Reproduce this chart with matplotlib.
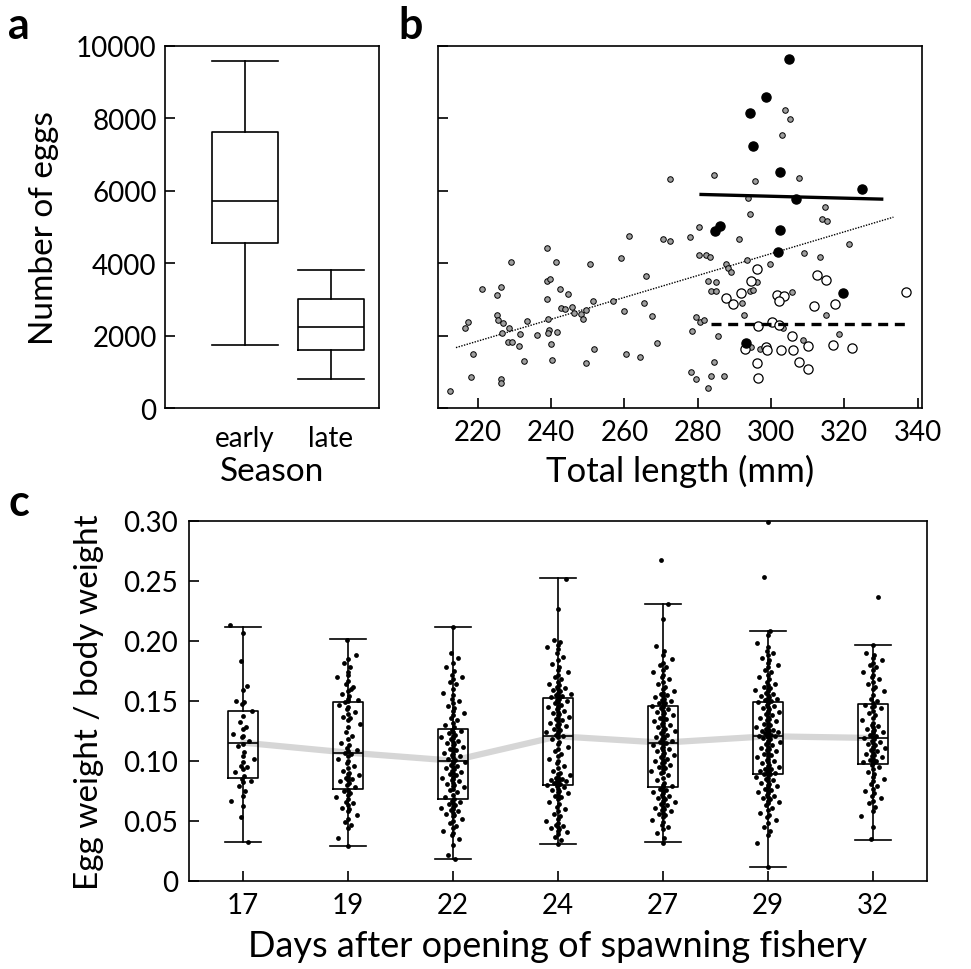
import numpy as np
import matplotlib
matplotlib.use("Agg")
import matplotlib.pyplot as plt

plt.rcParams['font.family'] = ['Lato', 'DejaVu Sans']

# ---- panel a: number of eggs by season (box stats) ----
seasons = ['early', 'late']
a_whislo = [1750, 800]
a_q1 = [4560, 1590]
a_med = [5720, 2240]
a_q3 = [7620, 3020]
a_whishi = [9580, 3820]

# ---- panel b: eggs vs total length ----
grey_len = [212.5, 216.4, 217.3, 218.6, 218.1, 221.0, 225.2, 226.3, 225.1, 225.5, 226.9, 226.5,
            228.5, 226.2, 226.2, 228.9, 228.3, 229.3, 231.4, 231.1, 232.5, 233.5, 236.2, 238.8,
            239.6, 238.9, 239.2, 239.4, 239.2, 240.0, 240.1, 238.9, 241.4, 241.5, 242.3, 242.7,
            243.7, 244.5, 245.7, 246.3, 248.0, 248.7, 249.5, 249.5, 250.6, 251.3, 251.7, 256.8,
            259.0, 259.9, 260.5, 261.1, 264.1, 265.3, 265.9, 267.6, 268.8, 270.5, 272.3, 272.4,
            277.9, 278.1, 278.5, 279.6, 279.6, 280.3, 280.3, 280.6, 281.6, 282.2, 283.4, 282.8,
            283.7, 283.7, 282.9, 284.4, 284.9, 285.1, 284.5, 285.4, 287.2, 287.7, 288.2, 289.1,
            291.3, 292.0, 292.6, 293.5, 293.6, 294.3, 294.3, 295.2, 295.5, 296.1, 299.6, 303.2,
            303.0, 303.8, 305.1, 305.7, 307.5, 308.7, 308.9, 313.3, 313.8, 314.6, 315.4, 315.0,
            318.5, 321.2, 294.5, 297.0, 299.1]
grey_eggs = [470, 2221, 2378, 1484, 857, 3281, 3134, 3337, 2562, 2433, 2360, 2065,
             2221, 811, 691, 4028, 1816, 1816, 2037, 1724, 1290, 2406, 2028, 3502,
             3576, 3005, 2470, 2166, 2074, 1770, 1327, 4433, 4037, 2111, 3290, 2765,
             2737, 3143, 2793, 2627, 2608, 2470, 2719, 1235, 3991, 2968, 1622, 2968,
             4148, 2682, 1502, 4747, 1401, 2894, 3659, 2553, 1788, 4664, 4609, 6323,
             4728, 986, 2120, 2516, 811, 4231, 5005, 2387, 2424, 4221, 4166, 3502,
             3226, 876, 562, 6433, 3226, 3475, 1272, 1991, 876, 3991, 3871, 3751,
             4673, 2913, 2562, 4102, 5807, 5364, 3244, 3263, 6258, 3475, 3973, 2212,
             7539, 8222, 7991, 3208, 6360, 1889, 4286, 4166, 5226, 5539, 5161, 2562,
             2037, 4535, 1696, 1641, 1595]
early_len = [304.8, 298.5, 294.3, 295.1, 302.5, 324.9, 306.9, 286.1, 284.6, 302.5, 301.8, 319.7, 293.1]
early_eggs = [9641, 8581, 8139, 7235, 6516, 6037, 5770, 5014, 4876, 4922, 4304, 3189, 1797]
late_len = [296.1, 294.5, 291.8, 287.7, 289.7, 301.5, 303.5, 302.3, 312.6, 315.0, 311.7, 317.5,
            336.9, 296.4, 300.2, 302.2, 305.8, 293.0, 298.5, 298.8, 302.6, 305.9, 310.2, 316.9,
            322.0, 296.3, 307.6, 310.2, 296.5]
late_eggs = [3853, 3512, 3180, 3051, 2866, 3134, 3088, 2959, 3687, 3548, 2811, 2866,
             3198, 2258, 2378, 2286, 2000, 1631, 1696, 1595, 1595, 1595, 1714, 1742,
             1659, 1235, 1281, 1088, 830]
# fitted lines (endpoints)
fit_all_x = [214.0, 333.4]
fit_all_y = [1668, 5272]
fit_early_x = [280.9, 330.2]
fit_early_y = [5899, 5770]
fit_late_x = [283.5, 337.6]
fit_late_y = [2332, 2332]

# ---- panel c: egg weight / body weight by day ----
days = ['17', '19', '22', '24', '27', '29', '32']
c_whislo = [0.0328, 0.0294, 0.018, 0.0311, 0.0322, 0.0119, 0.0344]
c_q1 = [0.0856, 0.0767, 0.0686, 0.080, 0.0783, 0.0894, 0.0978]
c_med = [0.1153, 0.107, 0.1003, 0.1206, 0.1153, 0.1206, 0.1192]
c_q3 = [0.1417, 0.149, 0.1264, 0.1528, 0.1456, 0.149, 0.1472]
c_whishi = [0.212, 0.2014, 0.2117, 0.2522, 0.2311, 0.208, 0.197]

d17 = [.2133, .2064, .1831, .1622, .1589, .1503, .1489, .1475, .1419, .1378, .1322, .1281, .1267,
       .1225, .1211, .1197, .1169, .1142, .1128, .1072, .1044, .1017, .0989, .0961, .0947, .0933,
       .0906, .0878, .0850, .0836, .0822, .0794, .0753, .0711, .0669, .0628, .0531, .0322]
d19 = [.201, .188, .185, .182, .178, .174, .170, .167, .164, .162, .158, .156, .154, .152, .151, .150,
       .149, .160, .172,
       .147, .145, .143, .141, .139, .137, .136, .134, .131, .128, .124, .121, .118, .115, .113, .111,
       .109, .108, .107,
       .106, .104, .102, .100, .098, .096, .094, .092, .090, .089, .088, .087, .086, .085, .084, .083,
       .082, .080, .078,
       .076, .075, .073, .072, .070, .068, .066, .065, .063, .061, .060, .058, .055, .052, .049, .047,
       .044, .036, .029]
d22 = [.212, .190, .186, .182, .178, .175, .172, .170, .168, .166, .164, .160, .157, .155, .152, .150,
       .148, .146, .144, .142, .140, .138, .136, .134, .132, .130, .128,
       .126, .125, .124, .123, .122, .121, .120, .119, .118, .117, .116, .115, .114, .113, .112, .111,
       .110, .109, .108, .107, .106, .105, .104, .103, .102, .101, .100,
       .099, .098, .097, .096, .095, .094, .093, .092, .091, .090, .089, .088, .087, .086, .085, .084,
       .083, .082, .081, .080, .079, .078, .077, .076, .074, .072, .070,
       .068, .067, .066, .065, .064, .063, .062, .061, .060, .059, .058, .057, .056, .055, .054, .052,
       .050, .048, .046, .044, .042, .040, .038, .035, .030, .022, .018]
d24 = [.252, .227, .201, .199, .197, .195, .193, .190, .187, .184, .181, .178, .176, .174, .172, .170,
       .168, .166, .164, .163, .162, .161, .160, .159, .158, .157, .156, .155, .155, .154, .154, .153,
       .152, .151, .150, .149, .148, .147, .146, .145, .144, .143, .142, .141, .140, .139, .138, .137,
       .136, .135, .134, .133, .132, .131, .130, .129, .128, .127, .126, .125, .124, .123, .122, .121,
       .120, .118, .116, .114, .112, .110, .108, .106, .104, .102, .100, .098, .096, .094, .092, .090,
       .089, .088, .087, .086, .085, .085, .084, .084, .083, .083, .082, .082, .081, .081, .080, .080,
       .079, .078, .077, .076, .075, .074, .073, .072, .071, .070, .068, .066, .064, .062, .060, .058,
       .056, .054, .052, .050, .048, .047, .046, .045, .044, .043, .042, .041, .039, .037, .034, .031]
d27 = [.2675, .231, .218, .196, .192, .188, .185, .182, .180, .178, .176, .174, .172, .170, .168, .166,
       .164, .162, .160, .158, .157, .156, .155, .154, .153, .152, .151, .150, .149, .148, .148, .147,
       .146,
       .145, .144, .143, .142, .141, .140, .139, .138, .137, .136, .135, .134, .133, .132, .131, .130,
       .129, .128, .127, .126, .125, .124, .123, .122, .121, .120, .119, .118, .117, .116, .116, .115,
       .114, .113, .112, .111, .110, .109, .108, .107, .106, .105, .104, .103, .102, .101, .100, .099,
       .098, .097, .096, .095, .094, .093, .092, .091, .090, .088, .086, .084, .082, .080, .079, .078,
       .077, .076, .075, .074, .073, .072, .071, .070, .069, .068, .067, .066, .065, .064, .063, .062,
       .061, .060, .059, .058, .057, .056, .055, .053, .051, .049, .047, .045, .043, .040, .036, .032]
d29 = [.2994, .253,
       .208, .205, .198, .195, .192, .190, .188, .186, .184, .182, .180, .178, .176, .174, .172, .170,
       .168, .166, .164, .163, .162, .161, .160, .159, .158, .157, .156, .155, .154, .153, .152, .152,
       .151, .151, .150, .150, .149,
       .148, .147, .146, .145, .144, .143, .142, .141, .140, .139, .138, .137, .136, .135, .134, .133,
       .132, .131, .130, .129, .128, .127, .127, .126, .126, .125, .125, .124, .124, .123, .123, .122,
       .122, .121, .121, .121, .121,
       .120, .119, .118, .117, .116, .115, .114, .113, .112, .111, .110, .109, .108, .107, .106, .105,
       .104, .103, .102, .101, .100, .099, .098, .097, .096, .095, .094, .093, .093, .092, .092, .091,
       .091, .090, .090, .089, .089,
       .088, .087, .086, .085, .084, .083, .082, .081, .080, .079, .078, .077, .076, .075, .074, .073,
       .072, .071, .070, .069, .068, .067, .066, .065, .063, .061, .059, .057, .055, .053, .051, .048,
       .045, .042, .038, .032, .012]
d32 = [.237,
       .197, .190, .188, .186, .184, .182, .180, .178, .176, .174, .172, .170, .168, .166, .164, .162,
       .160, .158, .155, .152, .150, .148,
       .147, .146, .145, .144, .142, .140, .138, .136, .134, .132, .130, .129, .128, .127, .126, .125,
       .124, .123, .122, .121, .120, .119,
       .118, .117, .116, .115, .114, .113, .112, .111, .110, .109, .108, .107, .106, .105, .104, .103,
       .102, .101, .100, .099, .099, .098,
       .097, .095, .093, .091, .089, .087, .085, .083, .081, .079, .077, .075, .073, .071, .069, .067,
       .065, .062, .058, .054, .045, .035]
c_points = [d17, d19, d22, d24, d27, d29, d32]

W, H = 971, 970
fig = plt.figure(figsize=(W / 100, H / 100), dpi=100)

def px_axes(x0, y0, x1, y1):
    return fig.add_axes([x0 / W, 1 - y1 / H, (x1 - x0) / W, (y1 - y0) / H])

lw = 1.2
tick_fs = 20
lab_fs = 24
tick_kw = dict(direction='in', length=7, width=lw, labelsize=tick_fs)

# ---------- panel a ----------
axa = px_axes(165, 47, 379, 409)
stats_a = [dict(whislo=a_whislo[i], q1=a_q1[i], med=a_med[i], q3=a_q3[i], whishi=a_whishi[i])
           for i in range(len(seasons))]
bp = dict(color='black', linewidth=lw)
axa.bxp(stats_a, positions=[1, 2], widths=0.77, showfliers=False, capwidths=0.77,
        boxprops=bp, whiskerprops=bp, capprops=bp, medianprops=bp)
axa.set_xlim(0.07, 2.56)
axa.set_ylim(0, 10000)
axa.set_yticks([0, 2000, 4000, 6000, 8000, 10000])
axa.set_yticklabels(['0', '2000', '4000', '6000', '8000', '10000'])
axa.set_xticks([1, 2])
axa.set_xticklabels(seasons)
axa.tick_params(axis='y', **tick_kw)
axa.tick_params(axis='y', pad=6)
axa.tick_params(axis='x', length=0, labelsize=tick_fs, pad=12)
axa.set_xlabel('Season', fontsize=lab_fs, labelpad=4)
axa.set_ylabel('Number of eggs', fontsize=lab_fs, labelpad=12)
for s in axa.spines.values():
    s.set_linewidth(lw)

# ---------- panel b ----------
axb = px_axes(438, 47, 922, 409)
axb.scatter(grey_len, grey_eggs, s=16, facecolor='#9e9e9e', edgecolor='black', linewidth=0.7, zorder=3)
axb.scatter(late_len, late_eggs, s=44, facecolor='white', edgecolor='black', linewidth=0.9, zorder=4)
axb.scatter(early_len, early_eggs, s=44, facecolor='black', edgecolor='black', linewidth=0.9, zorder=4)
axb.plot(fit_all_x, fit_all_y, color='black', linestyle=(0, (1, 1)), linewidth=1.0, zorder=2)
axb.plot(fit_early_x, fit_early_y, color='black', linewidth=2.4, zorder=5)
axb.plot(fit_late_x, fit_late_y, color='black', linewidth=2.4, linestyle=(0, (3, 2)), zorder=5)
axb.set_xlim(209.1, 341.2)
axb.set_ylim(0, 10000)
axb.set_xticks([220, 240, 260, 280, 300, 320, 340])
axb.set_yticks([0, 2000, 4000, 6000, 8000, 10000])
axb.tick_params(axis='y', labelleft=False, **tick_kw)
axb.tick_params(axis='x', **tick_kw)
axb.tick_params(axis='x', pad=8)
axb.set_xlabel('Total length (mm)', fontsize=lab_fs + 1, labelpad=6)
for s in axb.spines.values():
    s.set_linewidth(lw)

# ---------- panel c ----------
axc = px_axes(189, 522, 927, 882)
pos = np.arange(len(days))
axc.plot(pos, c_med, color='#d6d6d6', linewidth=4.5, solid_capstyle='round', zorder=1)
stats_c = [dict(whislo=c_whislo[i], q1=c_q1[i], med=c_med[i], q3=c_q3[i], whishi=c_whishi[i])
           for i in range(len(days))]
axc.bxp(stats_c, positions=pos, widths=0.28, showfliers=False, capwidths=0.34,
        boxprops=bp, whiskerprops=bp, capprops=bp, medianprops=bp, zorder=2)
for i, vals in enumerate(c_points):
    k = np.arange(len(vals))
    u = ((k * 0.6180339 + 0.31 * i) % 1.0) * 2 - 1
    xj = pos[i] + 0.12 * u ** 3
    axc.scatter(xj, vals, s=12, color='black', linewidth=0, zorder=3, clip_on=False)
axc.set_xlim(-0.514, 6.514)
axc.set_ylim(0, 0.30)
axc.set_xticks(pos)
axc.set_xticklabels(days)
axc.set_yticks([0, 0.05, 0.10, 0.15, 0.20, 0.25, 0.30])
axc.set_yticklabels(['0', '0.05', '0.10', '0.15', '0.20', '0.25', '0.30'])
axc.tick_params(axis='both', **tick_kw)
axc.tick_params(axis='x', pad=8)
axc.tick_params(axis='y', pad=8)
axc.set_xlabel('Days after opening of spawning fishery', fontsize=26, labelpad=8)
axc.set_ylabel('Egg weight / body weight', fontsize=lab_fs, labelpad=14)
for s in axc.spines.values():
    s.set_linewidth(lw)

# panel letters
fig.text(8 / W, 1 - 6 / H, 'a', fontsize=31, fontweight='bold', ha='left', va='top')
fig.text(398 / W, 1 - 6 / H, 'b', fontsize=31, fontweight='bold', ha='left', va='top')
fig.text(8 / W, 1 - 483 / H, 'c', fontsize=31, fontweight='bold', ha='left', va='top')

fig.savefig('out.png', dpi=100)
